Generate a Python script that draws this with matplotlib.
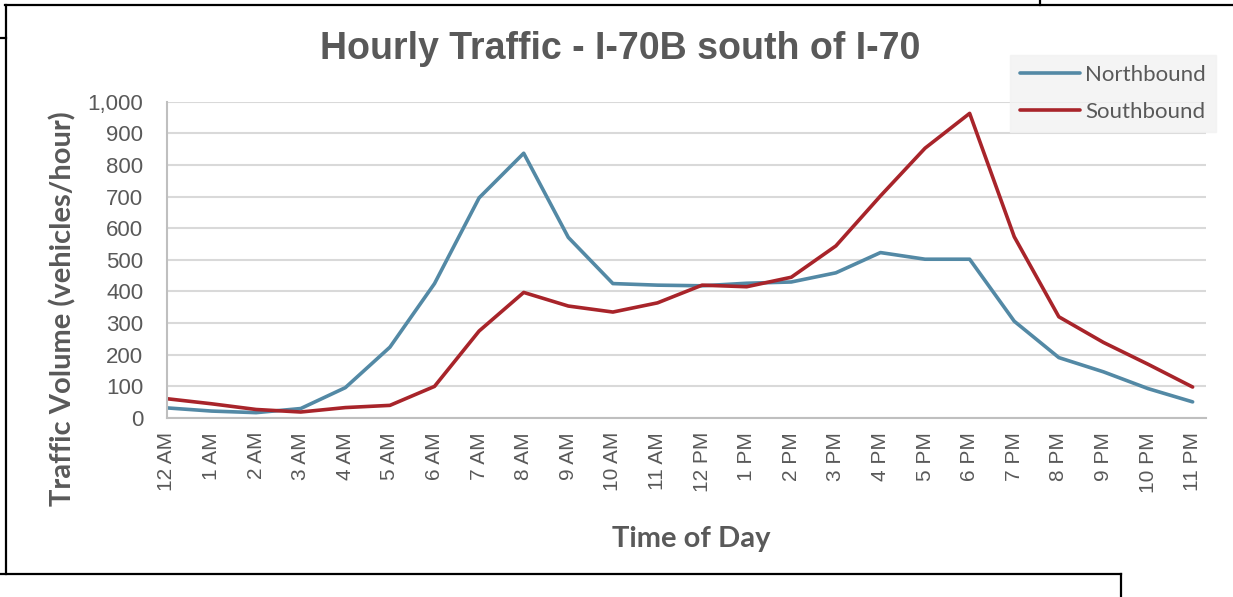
import matplotlib.pyplot as plt
from matplotlib.lines import Line2D
from matplotlib.ticker import FuncFormatter

hours = ["12 AM", "1 AM", "2 AM", "3 AM", "4 AM", "5 AM", "6 AM", "7 AM", "8 AM", "9 AM",
         "10 AM", "11 AM", "12 PM", "1 PM", "2 PM", "3 PM", "4 PM", "5 PM", "6 PM", "7 PM",
         "8 PM", "9 PM", "10 PM", "11 PM"]
northbound = [32, 22, 17, 30, 96, 224, 425, 696, 837, 571, 425, 420, 418, 426, 430, 459,
              523, 502, 502, 306, 191, 146, 93, 51]
southbound = [61, 45, 27, 19, 33, 40, 100, 275, 397, 354, 335, 364, 420, 415, 445, 544,
              702, 853, 963, 573, 320, 239, 170, 98]

gray = "#595959"
fig = plt.figure(figsize=(12.33, 5.97), dpi=100)
ax = fig.add_axes([0.1354, 0.2998, 0.8427, 0.5299])

x = range(len(hours))
ax.plot(x, northbound, color="#5389A5", lw=2.6, label="Northbound", solid_capstyle="round")
ax.plot(x, southbound, color="#A8242A", lw=2.6, label="Southbound", solid_capstyle="round")

ax.set_xlim(0, 23.3)
ax.set_ylim(0, 1000)
ax.set_yticks(range(0, 1001, 100))
ax.yaxis.set_major_formatter(FuncFormatter(lambda v, p: f"{int(v):,}"))
ax.set_xticks(list(x))
ax.set_xticklabels(hours, rotation=90)
ax.tick_params(axis="y", length=0, pad=17, labelsize=16, labelcolor=gray)
ax.tick_params(axis="x", length=0, pad=10, labelsize=15, labelcolor=gray)
for lab in ax.get_xticklabels() + ax.get_yticklabels():
    lab.set_fontfamily("Liberation Sans")

ax.grid(axis="y", color="#d9d9d9", lw=1.5)
ax.set_axisbelow(True)
for s in ["top", "right"]:
    ax.spines[s].set_visible(False)
ax.spines["left"].set_color("#bfbfbf")
ax.spines["bottom"].set_color("#bfbfbf")
ax.spines["left"].set_linewidth(1.5)
ax.spines["bottom"].set_linewidth(1.5)

fig.text(0.503, 0.918, "Hourly Traffic - I-70B south of I-70", ha="center", va="center",
         fontsize=27, fontweight="bold", color=gray,
         family=["Liberation Sans Narrow", "Liberation Sans"])
fig.text(0.051, 0.483, "Traffic Volume (vehicles/hour)", rotation=90, ha="center", va="center",
         fontsize=21, fontweight="bold", color=gray, family=["Lato", "DejaVu Sans"])
fig.text(0.561, 0.097, "Time of Day", ha="center", va="center",
         fontsize=21, fontweight="bold", color=gray, family=["Lato", "DejaVu Sans"])

leg = fig.legend(loc="upper left", bbox_to_anchor=(0.819, 0.908), frameon=True,
                 fancybox=False, handlelength=2.7, handletextpad=0.25, labelspacing=0.75,
                 prop={"family": "Lato", "size": 16}, labelcolor=gray,
                 borderpad=0.45, borderaxespad=0)
leg.get_frame().set_facecolor("#f2f2f2")
leg.get_frame().set_edgecolor("#f2f2f2")

# page frame fragments around the chart
W, H = 1233, 597
def seg(x0, y0, x1, y1):
    fig.add_artist(Line2D([x0 / W, x1 / W], [1 - y0 / H, 1 - y1 / H], color="black", lw=1.6))
seg(5, 5, 1233, 5)
seg(1040, 0, 1040, 5)
seg(0, 38, 6, 38)
seg(6, 5, 6, 574)
seg(0, 574, 1121, 574)
seg(1121, 574, 1121, 597)

fig.savefig("out.png", dpi=100)
